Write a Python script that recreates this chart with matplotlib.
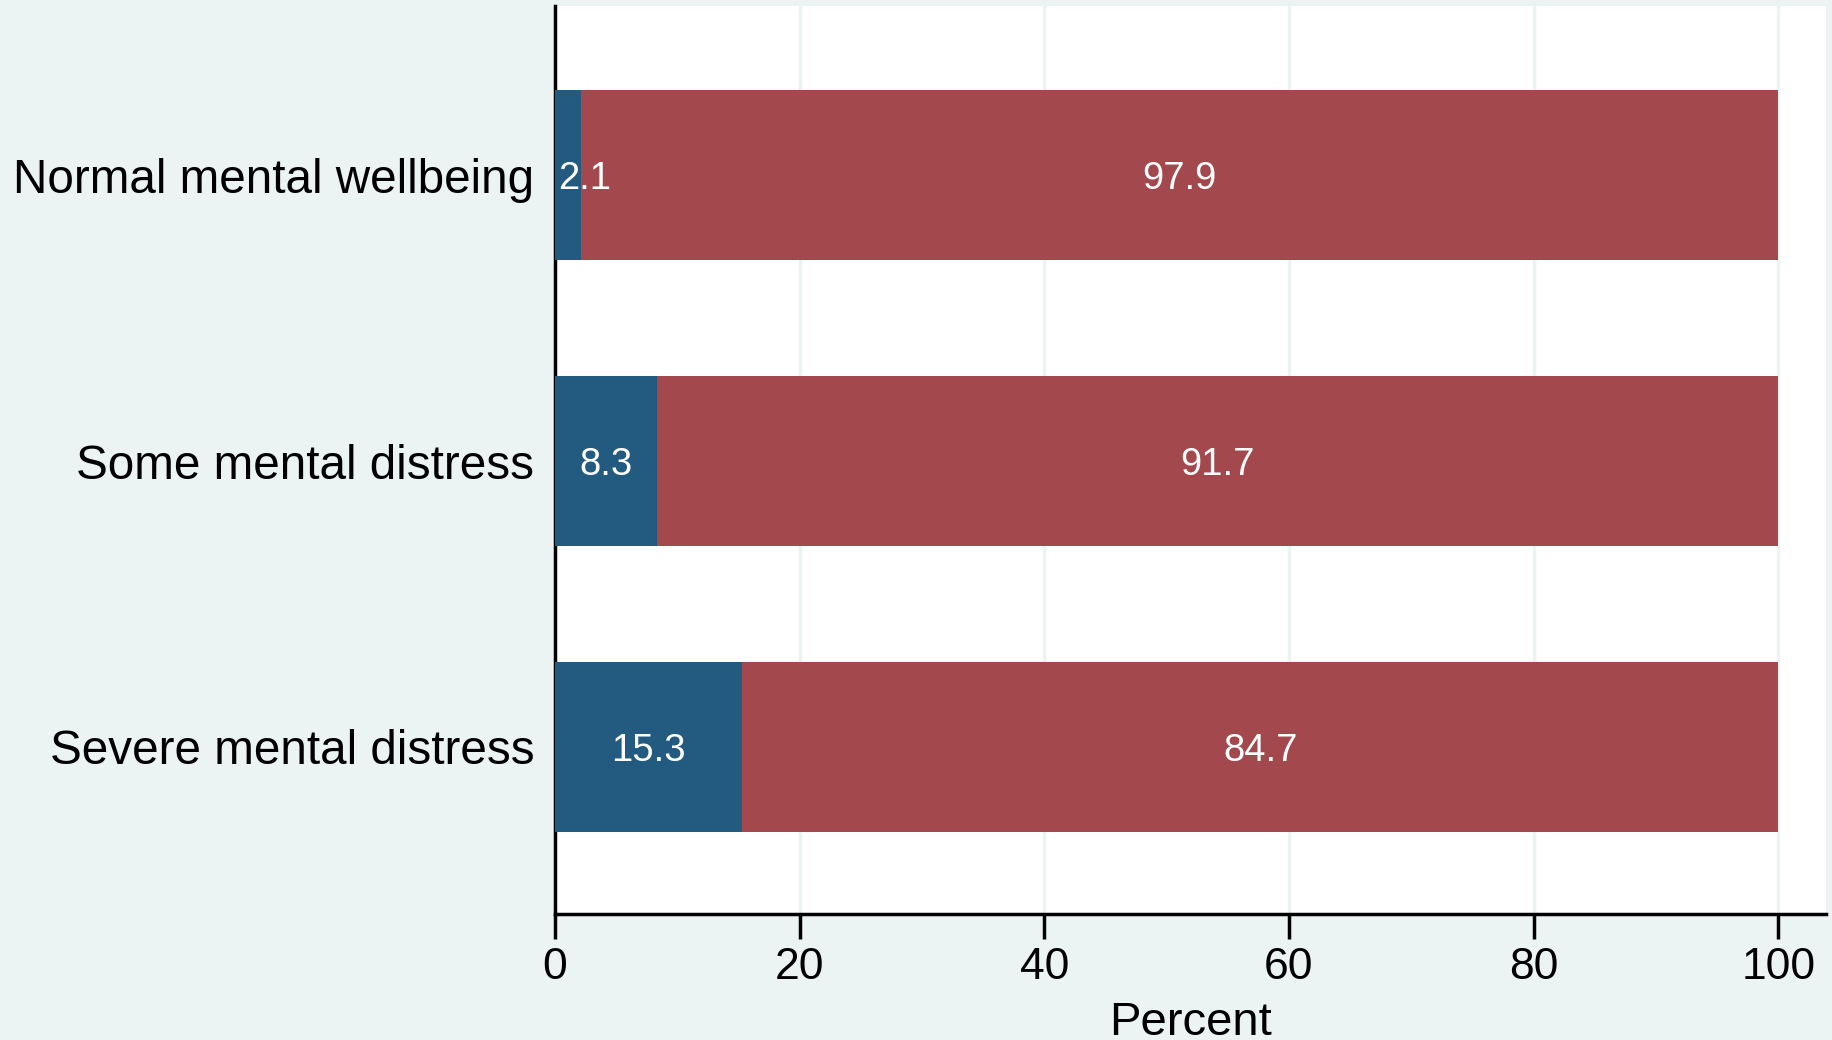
import numpy as np
import matplotlib.pyplot as plt

categories = ['Normal mental wellbeing', 'Some mental distress', 'Severe mental distress']
yes_pct = [2.1, 8.3, 15.3]
no_pct = [97.9, 91.7, 84.7]
xticks = [0, 20, 40, 60, 80, 100]

bg = '#ebf4f3'
blue = '#225a80'
red = '#a3484d'

plt.rcParams['font.family'] = ['Liberation Sans', 'DejaVu Sans']

fig = plt.figure(figsize=(18.33, 10.40), dpi=100)
fig.patch.set_facecolor(bg)
ax = fig.add_axes([555 / 1833, 1 - 914 / 1040, (1826 - 555) / 1833, (914 - 6) / 1040])
ax.set_facecolor('white')

y = np.arange(len(categories))
ax.barh(y, yes_pct, height=0.595, color=blue, zorder=3)
ax.barh(y, no_pct, left=yes_pct, height=0.595, color=red, zorder=3)

for i in range(len(categories)):
    c1 = yes_pct[i] / 2
    if c1 < 4:
        ax.text(0.25, y[i], '%.1f' % yes_pct[i], color='white', fontsize=27.5,
                ha='left', va='center_baseline', zorder=4)
    else:
        ax.text(c1, y[i], '%.1f' % yes_pct[i], color='white', fontsize=27.5,
                ha='center', va='center_baseline', zorder=4)
    ax.text(yes_pct[i] + no_pct[i] / 2, y[i], '%.1f' % no_pct[i], color='white',
            fontsize=27.5, ha='center', va='center_baseline', zorder=4)

ax.set_xlim(0, 103.9)
ax.set_ylim(2.585, -0.593)
ax.set_yticks(y)
ax.set_yticklabels(categories, fontsize=34.3)
ax.tick_params(axis='y', length=0, pad=15)
ax.set_xticks(xticks)
ax.set_xticklabels([str(t) for t in xticks], fontsize=32)
ax.tick_params(axis='x', length=18, width=2.5, pad=6)
for t in xticks[1:]:
    ax.axvline(t, color=bg, lw=2.5, zorder=1)
ax.set_xlabel('Percent', fontsize=34, labelpad=9)

for s in ['top', 'right']:
    ax.spines[s].set_visible(False)
ax.spines['left'].set_linewidth(2.5)
ax.spines['bottom'].set_linewidth(2.5)

fig.savefig('out.png', dpi=100, facecolor=bg)
